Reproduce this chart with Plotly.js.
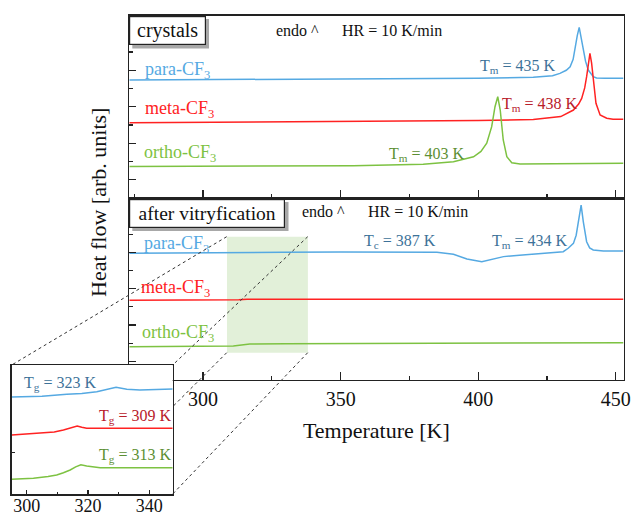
<!DOCTYPE html>
<html><head><meta charset="utf-8">
<script src="https://cdn.plot.ly/plotly-3.0.1.min.js"></script>
<style>html,body{margin:0;padding:0;background:#fff}#chart{width:633px;height:515px}</style>
</head><body><div id="chart"></div>
<script>
// ---- crystals (top panel) ----
const topParaT  = [273.2, 300, 350, 400, 420, 427, 429.7, 432, 433.4, 434.5, 435.2, 436, 436.7, 437.3, 438.2, 439, 440, 441, 441.8, 443, 446, 452.8];
const topParaY  = [6.47, 6.48, 6.52, 6.56, 6.61, 6.70, 6.83, 7.00, 7.19, 7.60, 8.29, 8.90, 9.35, 8.85, 8.11, 7.50, 7.01, 6.78, 6.65, 6.58, 6.56, 6.56];
const topMetaT  = [273.2, 300, 350, 400, 420, 430, 434.6, 436.5, 437.6, 438.7, 439.4, 440.0, 440.6, 441.2, 441.8, 442.8, 444.3, 446.7, 449, 452.8];
const topMetaY  = [4.13, 4.15, 4.19, 4.24, 4.30, 4.46, 4.82, 5.15, 5.46, 6.03, 6.65, 7.43, 7.93, 7.40, 6.65, 5.19, 4.55, 4.37, 4.31, 4.31];
const topOrthoT = [273.2, 354.6, 380, 391.0, 398.3, 401, 403.1, 404.9, 406.1, 407.1, 408.0, 409.1, 410.4, 412.2, 415.2, 452.8];
const topOrthoY = [1.72, 1.77, 1.85, 1.99, 2.26, 2.55, 3.00, 3.91, 5.00, 5.55, 4.82, 3.18, 2.26, 1.93, 1.86, 1.90];

// ---- after vitryfication (bottom panel) ----
const botParaT  = [273.2, 300, 326, 329, 350, 380, 385, 391, 395.9, 401.3, 405.5, 409.2, 415, 421.3, 428, 430.9, 432.7, 434.6, 435.6, 436.4, 437.4, 438.2, 439.4, 440.5, 441.8, 445.5, 452.8];
const botParaY  = [6.95, 6.96, 6.97, 7.01, 7.02, 7.02, 7.01, 6.90, 6.64, 6.49, 6.64, 6.77, 6.85, 6.92, 6.98, 7.04, 7.23, 7.50, 7.95, 8.69, 9.61, 8.69, 7.59, 7.25, 7.14, 7.08, 7.08];
const botMetaT  = [273.2, 310, 313, 316, 330, 400, 452.8];
const botMetaY  = [4.36, 4.37, 4.40, 4.42, 4.42, 4.42, 4.42];
const botOrthoT = [273.2, 300, 311, 314, 317, 330, 380, 420, 452.8];
const botOrthoY = [1.80, 1.82, 1.84, 1.90, 1.96, 1.97, 1.99, 2.02, 2.03];

// ---- inset (glass transition region) ----
const insParaT  = [295.1, 305, 313.1, 318, 322.9, 326.1, 329.2, 332.7, 337.0, 347.7];
const insParaY  = [4.32, 4.38, 4.53, 4.60, 4.73, 4.92, 5.07, 4.92, 4.86, 4.94];
const insMetaT  = [295.1, 305.4, 309, 312.0, 314.5, 316.5, 318, 319.6, 325, 347.7];
const insMetaY  = [1.37, 1.50, 1.60, 1.76, 1.95, 2.07, 1.97, 1.89, 1.89, 1.89];
const insOrthoT = [295.1, 302.2, 307, 309.8, 312, 314.2, 316, 317.7, 319.6, 324.0, 335, 347.7];
const insOrthoY = [-2.06, -1.98, -1.85, -1.73, -1.55, -1.34, -1.10, -0.93, -1.03, -1.16, -1.16, -1.16];

const tickLabelsMain = [300, 350, 400, 450];
const tickLabelsInset = [300, 320, 340];
const xTitle = 'Temperature [K]';
const yTitle = 'Heat flow [arb. units]';

const FONT = 'Liberation Serif, "Times New Roman", serif';
const BLUE = '#55a9e2', RED = '#ff2222', GREEN = '#7dc242';
const BLUE_D = '#3d7299', RED_D = '#b8202a', GREEN_D = '#5c8f33';
const AX = '#222';

function tr(x, y, color, xa, ya) {
  return {x: x, y: y, type: 'scatter', mode: 'lines', xaxis: xa, yaxis: ya,
          line: {color: color, width: 1.5}, hoverinfo: 'skip'};
}
const data = [
  tr(botParaT, botParaY, BLUE, 'x', 'y2'),
  tr(botMetaT, botMetaY, RED, 'x', 'y2'),
  tr(botOrthoT, botOrthoY, GREEN, 'x', 'y2'),
  tr(topParaT, topParaY, BLUE, 'x3', 'y'),
  tr(topMetaT, topMetaY, RED, 'x3', 'y'),
  tr(topOrthoT, topOrthoY, GREEN, 'x3', 'y'),
  tr(insParaT, insParaY, BLUE, 'x2', 'y3'),
  tr(insMetaT, insMetaY, RED, 'x2', 'y3'),
  tr(insOrthoT, insOrthoY, GREEN, 'x2', 'y3')
];

function A(text, x, y, xref, yref, color, size, extra) {
  return Object.assign({text: text, x: x, y: y, xref: xref, yref: yref, showarrow: false,
    xanchor: 'left', yanchor: 'middle', font: {family: FONT, size: size, color: color}}, extra || {});
}
const W = 633, H = 515;
const px = v => v / W, py = v => 1 - v / H;

const annotations = [
  // top panel
  A('crystals', px(129.3), py(16), 'paper', 'paper', '#111', 20,
    {yanchor: 'top', bgcolor: '#fff', bordercolor: AX, borderwidth: 1.2, borderpad: 1, width: 73, height: 25}),
  A('endo ^', 325.9, 9.16, 'x3', 'y', '#111', 16),
  A('HR = 10 K/min', 349.9, 9.16, 'x3', 'y', '#111', 16),
  A('para-CF<sub>3</sub>', 278.2, 7.0, 'x3', 'y', BLUE, 18),
  A('meta-CF<sub>3</sub>', 278.2, 4.86, 'x3', 'y', RED, 18),
  A('ortho-CF<sub>3</sub>', 277.9, 2.45, 'x3', 'y', GREEN, 18),
  A('T<sub>m</sub> = 435 K', 400.0, 7.22, 'x3', 'y', BLUE_D, 16),
  A('T<sub>m</sub> = 438 K', 408.0, 5.14, 'x3', 'y', RED_D, 16),
  A('T<sub>m</sub> = 403 K', 366.9, 2.40, 'x3', 'y', GREEN_D, 16),
  // bottom panel
  A('after vitryfication', px(129.3), py(199), 'paper', 'paper', '#111', 19.5,
    {yanchor: 'top', bgcolor: '#fff', bordercolor: AX, borderwidth: 1.2, borderpad: 1, width: 152, height: 25}),
  A('endo ^', 335.3, 9.23, 'x', 'y2', '#111', 16),
  A('HR = 10 K/min', 359.2, 9.23, 'x', 'y2', '#111', 16),
  A('para-CF<sub>3</sub>', 277.8, 7.45, 'x', 'y2', BLUE, 18),
  A('meta-CF<sub>3</sub>', 276.6, 5.04, 'x', 'y2', RED, 18),
  A('ortho-CF<sub>3</sub>', 277.1, 2.56, 'x', 'y2', GREEN, 18),
  A('T<sub>c</sub> = 387 K', 357.7, 7.62, 'x', 'y2', BLUE_D, 16),
  A('T<sub>m</sub> = 434 K', 404.3, 7.62, 'x', 'y2', BLUE_D, 16),
  // inset
  A('T<sub>g</sub> = 323 K', 298.4, 5.33, 'x2', 'y3', BLUE_D, 16),
  A('T<sub>g</sub> = 309 K', 322.9, 2.77, 'x2', 'y3', RED_D, 16),
  A('T<sub>g</sub> = 313 K', 323.1, -0.19, 'x2', 'y3', GREEN_D, 16),
  // y title spanning both panels
  A(yTitle, px(98), py(203), 'paper', 'paper', '#111', 22, {xanchor: 'center', textangle: -90})
];

const dot = {color: '#333', width: 1, dash: 'dot'};
const shapes = [
  {type: 'rect', xref: 'x', yref: 'y2', x0: 308.7, x1: 338.1, y0: 1.48, y1: 7.87,
   fillcolor: '#e2f0d9', line: {width: 0}, layer: 'below'},
  {type: 'rect', xref: 'paper', yref: 'paper', x0: px(132.3), x1: px(209), y0: py(48.5), y1: py(19),
   fillcolor: '#a8a8a8', line: {width: 0}, layer: 'above'},
  {type: 'rect', xref: 'paper', yref: 'paper', x0: px(132.3), x1: px(288.5), y0: py(231), y1: py(202),
   fillcolor: '#a8a8a8', line: {width: 0}, layer: 'above'},
  {type: 'line', xref: 'paper', yref: 'paper', x0: px(226.7), y0: py(236.7), x1: px(11.7), y1: py(365), line: dot, layer: 'above'},
  {type: 'line', xref: 'paper', yref: 'paper', x0: px(307.7), y0: py(236.7), x1: px(172.7), y1: py(365), line: dot, layer: 'above'},
  {type: 'line', xref: 'paper', yref: 'paper', x0: px(226.7), y0: py(352.7), x1: px(172.7), y1: py(406.7), line: dot, layer: 'above'},
  {type: 'line', xref: 'paper', yref: 'paper', x0: px(307.7), y0: py(352.7), x1: px(172.7), y1: py(494), line: dot, layer: 'above'}
];

const mainDom = [px(129.3), px(623.5)];
const xCommon = {
  range: [273.2, 452.8], showline: true, mirror: true, linecolor: AX, linewidth: 1.5,
  ticks: 'inside', ticklen: 8, tickwidth: 1.3, tickcolor: AX, showgrid: false, zeroline: false,
  tickmode: 'array', tickvals: tickLabelsMain, ticklabelstandoff: 1,
  minor: {tickmode: 'linear', tick0: 275, dtick: 25, ticks: 'inside', ticklen: 4, tickwidth: 1.2, tickcolor: AX, showgrid: false},
  tickfont: {family: FONT, size: 20, color: '#111'}
};
const yCommon = {
  range: [0, 10], showline: true, mirror: true, linecolor: AX, linewidth: 1.5,
  ticks: 'inside', ticklen: 7, tickwidth: 1.3, tickcolor: AX, showgrid: false, zeroline: false,
  showticklabels: false, tick0: 1, dtick: 2,
  minor: {tick0: 0, dtick: 1, ticks: 'inside', ticklen: 4, tickwidth: 1.2, tickcolor: AX, showgrid: false}
};

const layout = {
  width: W, height: H, margin: {l: 0, r: 0, t: 0, b: 0},
  paper_bgcolor: '#fff', plot_bgcolor: '#fff', showlegend: false,
  font: {family: FONT, color: '#111'},
  xaxis: Object.assign({}, xCommon, {domain: mainDom, anchor: 'y2',
    title: {text: xTitle, font: {family: FONT, size: 22, color: '#111'}, standoff: 13}}),
  xaxis3: Object.assign({}, xCommon, {domain: mainDom, anchor: 'y', matches: 'x', showticklabels: false}),
  yaxis: Object.assign({}, yCommon, {domain: [py(198), py(15.5)], anchor: 'x3'}),
  yaxis2: Object.assign({}, yCommon, {domain: [py(379.5), py(198)], anchor: 'x'}),
  xaxis2: {domain: [px(11.7), px(172.7)], anchor: 'y3', range: [295.1, 347.7],
    showline: true, mirror: true, linecolor: AX, linewidth: 1.5, showgrid: false, zeroline: false,
    ticks: 'inside', ticklen: 4, tickwidth: 1.2, tickcolor: AX,
    tickmode: 'array', tickvals: tickLabelsInset, ticklabelstandoff: -5,
    minor: {tickmode: 'linear', tick0: 300, dtick: 10, ticks: 'inside', ticklen: 2.5, tickwidth: 1, tickcolor: AX, showgrid: false},
    tickfont: {family: FONT, size: 18, color: '#111'}},
  yaxis3: {domain: [py(494), py(365)], anchor: 'x2', range: [-3.2, 6.8],
    showline: true, mirror: true, linecolor: AX, linewidth: 1.5, showgrid: false, zeroline: false,
    ticks: 'inside', ticklen: 3.5, tickwidth: 1.2, tickcolor: AX, showticklabels: false, tick0: 0, dtick: 10},
  annotations: annotations,
  shapes: shapes
};

Plotly.newPlot('chart', data, layout, {staticPlot: true, displayModeBar: false});
</script></body></html>
